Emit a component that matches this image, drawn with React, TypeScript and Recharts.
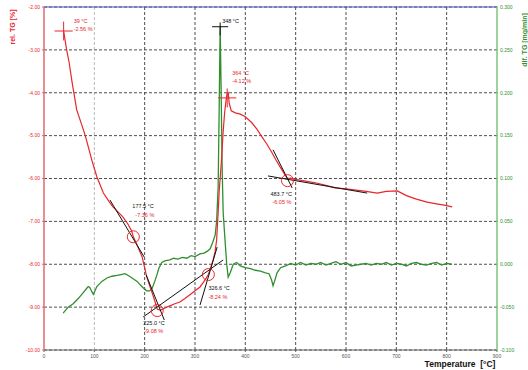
import React from 'react';
import {
  ComposedChart, Line, XAxis, YAxis, CartesianGrid, ReferenceLine, ReferenceDot,
} from 'recharts';

// TG curve (relative mass loss, %)
const tgTemp = [39, 45, 50, 56, 65, 75, 82, 90, 95, 105, 118, 130, 137, 147, 157, 166, 174, 177.5, 186, 195, 204, 210, 215, 220, 225, 232, 240, 250, 260, 270, 280, 290, 300, 310, 318, 326.6, 332, 336, 340, 343, 346, 348, 350, 353, 356, 359, 362, 364, 366, 368, 372, 380, 390, 400, 413, 423, 433, 443, 453, 461, 469, 477, 483.7, 490, 499, 520, 539, 560, 578, 600, 620, 640, 662, 680, 702, 720, 740, 761, 780, 795, 811];
const tgValue = [-2.56, -3.0, -3.3, -3.77, -4.4, -4.75, -5.0, -5.35, -5.57, -5.96, -6.34, -6.55, -6.66, -6.78, -6.9, -7.05, -7.22, -7.36, -7.58, -7.83, -8.29, -8.5, -8.67, -8.85, -9.05, -9.07, -9.02, -8.97, -8.92, -8.88, -8.8, -8.71, -8.62, -8.53, -8.4, -8.24, -8.05, -7.9, -7.7, -7.43, -6.8, -6.3, -6.0, -5.5, -4.9, -4.45, -4.15, -4.02, -4.0, -4.25, -4.42, -4.47, -4.5, -4.56, -4.7, -4.85, -5.03, -5.2, -5.4, -5.57, -5.73, -5.88, -6.0, -5.99, -6.02, -6.06, -6.1, -6.16, -6.22, -6.24, -6.27, -6.3, -6.34, -6.3, -6.29, -6.4, -6.48, -6.55, -6.59, -6.62, -6.66];

// DTG curve (mg/min)
const dtgTemp = [38, 48, 58, 68, 78, 85, 88, 91, 95, 98, 102, 105, 115, 125, 135, 145, 153, 161, 170, 177, 185, 191, 198, 204, 210, 215, 220, 224, 228, 234, 240, 250, 258, 266, 275, 284, 292, 300, 310, 318, 324, 330, 335, 340, 343, 346, 348, 350, 352, 354, 356, 360, 363, 366, 370, 376, 383, 390, 400, 410, 420, 430, 440, 447, 452, 455, 458, 463, 470, 480, 490, 500, 510, 520, 530, 540, 550, 560, 570, 580, 590, 600, 610, 620, 630, 640, 650, 660, 670, 680, 690, 700, 710, 720, 730, 740, 750, 760, 770, 780, 790, 800, 810];
const dtgValue = [-0.057, -0.05, -0.046, -0.04, -0.033, -0.028, -0.026, -0.027, -0.032, -0.035, -0.03, -0.026, -0.02, -0.016, -0.014, -0.013, -0.012, -0.011, -0.014, -0.017, -0.02, -0.024, -0.028, -0.031, -0.031, -0.028, -0.02, -0.013, -0.005, 0.002, 0.004, 0.005, 0.007, 0.006, 0.008, 0.007, 0.01, 0.009, 0.012, 0.013, 0.015, 0.018, 0.025, 0.034, 0.05, 0.09, 0.18, 0.278, 0.2, 0.11, 0.06, 0.025, 0.0, -0.015, -0.01, 0.0, 0.002, -0.002, -0.004, -0.005, -0.007, -0.008, -0.01, -0.011, -0.018, -0.025, -0.02, -0.01, -0.004, -0.002, 0.001, -0.001, 0.002, -0.001, 0.001, 0.0, 0.002, -0.001, 0.001, 0.003, 0.0, 0.002, -0.002, -0.001, 0.0, 0.001, -0.001, 0.001, 0.0, 0.002, -0.001, 0.001, 0.0, -0.002, 0.001, 0.002, 0.0, -0.001, 0.001, 0.002, -0.001, 0.001, 0.0];

const tempTicks = [0, 100, 200, 300, 400, 500, 600, 700, 800, 900];
const tgTicks = [-2, -3, -4, -5, -6, -7, -8, -9, -10];
const dtgTicks = [0.3, 0.25, 0.2, 0.15, 0.1, 0.05, 0, -0.05, -0.1];

// evaluated points (circles) on TG
const markTemp = [177.5, 225.0, 326.6, 483.7];
const markLoss = [-7.36, -9.08, -8.24, -6.05];
const markOffset = [[-1, -30, 2, -21], [-14, 13, -13, 21], [0, 14, 0, 23], [-17, 14, -15, 22]];

// tangent lines on TG: [t1, v1, t2, v2]
const tangents = [
  [131, -6.5, 199, -7.83],
  [203, -8.25, 239, -9.3],
  [197, -9.23, 356, -7.9],
  [310, -8.95, 344, -7.6],
  [445, -5.94, 642, -6.34],
  [455, -5.33, 493, -6.22],
];

// TG start and step end (crosses)
const crossTemp = [39, 364];
const crossLoss = [-2.56, -4.12];
const crossOffset = [[10, -9, 10, -1], [5, -24, 5, -16]];

// DTG peak
const peakTemp = 350;
const peakRate = 0.277;
const peakText = '348 °C';

const pts = (xs: number[], ys: number[]) => xs.map((x, i) => ({ t: x, v: ys[i] }));
const tgData = pts(tgTemp, tgValue);
const dtgData = pts(dtgTemp, dtgValue);

const RED = '#e8262b';
const GREEN = '#2f8f2f';
const FONT = '"Liberation Sans", Arial, sans-serif';

const twoLines = (l1: string, c1: string, l2: string | null, c2: string, o: number[]) => (props: any) => {
  const { cx, cy } = props;
  return (
    <g fontFamily={FONT} fontSize={5.5}>
      <text x={cx + o[0]} y={cy + o[1]} fill={c1} dominantBaseline="middle">{l1}</text>
      {l2 && <text x={cx + o[2]} y={cy + o[3]} fill={c2} dominantBaseline="middle">{l2}</text>}
    </g>
  );
};

const fmtT = (t: number) => `${t.toFixed(1)} °C`;
const fmtV = (v: number) => `${v.toFixed(2)} %`;

export default function App() {
  return (
    <div style={{ position: 'absolute', left: 0, top: 0, width: 528, height: 370, background: '#fff' }}>
      <ComposedChart width={528} height={370} margin={{ top: 7, right: 0, bottom: 0, left: 0 }}>
        <CartesianGrid yAxisId="tg" vertical={false} stroke="#3a3a3a" strokeDasharray="3 2" strokeWidth={0.9} />
        {tempTicks.slice(1, -1).map((t) => (
          <ReferenceLine
            key={`vg${t}`}
            yAxisId="tg"
            x={t}
            stroke={t === 100 ? '#9a9a9a' : '#3a3a3a'}
            strokeWidth={t === 100 ? 0.7 : 0.9}
            strokeDasharray="3 2"
          />
        ))}
        <XAxis
          dataKey="t"
          type="number"
          domain={[0, 900]}
          ticks={tempTicks}
          interval={0}
          height={20}
          tickSize={2}
          tickMargin={2}
          tick={{ fontSize: 5, fill: '#555', fontFamily: FONT }}
          axisLine={{ stroke: '#666', strokeWidth: 1.2 }}
          tickLine={{ stroke: '#666' }}
          allowDuplicatedCategory={false}
        />
        <YAxis
          yAxisId="tg"
          orientation="left"
          type="number"
          domain={[-10, -2]}
          ticks={tgTicks}
          interval={0}
          width={44}
          tickSize={2}
          tickMargin={2}
          tickFormatter={(v: number) => v.toFixed(2)}
          tick={{ fontSize: 5, fill: RED, fontFamily: FONT }}
          axisLine={{ stroke: '#e06a6a', strokeWidth: 1.5 }}
          tickLine={{ stroke: '#e06a6a' }}
        />
        <YAxis
          yAxisId="dtg"
          orientation="right"
          type="number"
          domain={[-0.1, 0.3]}
          ticks={dtgTicks}
          interval={0}
          width={31}
          tickSize={1}
          tickMargin={2}
          tickFormatter={(v: number) => v.toFixed(3)}
          tick={{ fontSize: 5, fill: GREEN, fontFamily: FONT, textAnchor: 'start' }}
          axisLine={{ stroke: '#7cc47c', strokeWidth: 1.5 }}
          tickLine={{ stroke: '#7cc47c' }}
        />
        <ReferenceLine yAxisId="tg" y={-2} stroke="#5050c8" strokeWidth={1.2} />

        <Line yAxisId="dtg" data={dtgData} dataKey="v" type="linear" stroke={GREEN} strokeWidth={1.3} dot={false} isAnimationActive={false} />
        <Line yAxisId="tg" data={tgData} dataKey="v" type="linear" stroke={RED} strokeWidth={1.2} dot={false} isAnimationActive={false} />

        {tangents.map((s, i) => (
          <ReferenceLine key={`tan${i}`} yAxisId="tg" segment={[{ x: s[0], y: s[1] }, { x: s[2], y: s[3] }]} stroke="#111" strokeWidth={1} />
        ))}

        {crossTemp.map((t, i) => (
          <React.Fragment key={`cr${i}`}>
            <ReferenceLine yAxisId="tg" segment={[{ x: t - 18, y: crossLoss[i] }, { x: t + 18, y: crossLoss[i] }]} stroke={RED} strokeWidth={1} />
            <ReferenceLine yAxisId="tg" segment={[{ x: t, y: crossLoss[i] + 0.22 }, { x: t, y: crossLoss[i] - 0.22 }]} stroke={RED} strokeWidth={1} />
            <ReferenceDot
              yAxisId="tg"
              x={t}
              y={crossLoss[i]}
              r={0}
              shape={twoLines(`${t} °C`, RED, fmtV(crossLoss[i]), RED, crossOffset[i])}
            />
          </React.Fragment>
        ))}

        <ReferenceLine yAxisId="dtg" segment={[{ x: peakTemp - 16, y: peakRate }, { x: peakTemp + 16, y: peakRate }]} stroke="#111" strokeWidth={1} />
        <ReferenceLine yAxisId="dtg" segment={[{ x: peakTemp, y: peakRate + 0.005 }, { x: peakTemp, y: peakRate - 0.01 }]} stroke="#111" strokeWidth={1} />
        <ReferenceDot yAxisId="dtg" x={peakTemp} y={peakRate} r={0} shape={twoLines(peakText, '#111', null, '#111', [2, -5, 0, 0])} />

        {markTemp.map((t, i) => (
          <ReferenceDot key={`mk${i}`} yAxisId="tg" x={t} y={markLoss[i]} r={6} fill="none" stroke={RED} strokeWidth={1} />
        ))}
        {markTemp.map((t, i) => (
          <ReferenceDot
            key={`ml${i}`}
            yAxisId="tg"
            x={t}
            y={markLoss[i]}
            r={0}
            shape={twoLines(fmtT(t), '#111', fmtV(markLoss[i]), RED, markOffset[i])}
          />
        ))}
      </ComposedChart>

      <div style={{ position: 'absolute', left: 12, top: 27, transform: 'translate(-50%, -50%) rotate(-90deg)', color: RED, fontFamily: FONT, fontSize: 7, fontWeight: 'bold', whiteSpace: 'nowrap' }}>
        rel. TG [%]
      </div>
      <div style={{ position: 'absolute', left: 524, top: 40, transform: 'translate(-50%, -50%) rotate(-90deg)', color: GREEN, fontFamily: FONT, fontSize: 7, fontWeight: 'bold', whiteSpace: 'nowrap' }}>
        dif. TG [mg/min]
      </div>
      <div style={{ position: 'absolute', left: 460, top: 364, transform: 'translate(-50%, -50%)', color: '#111', fontFamily: FONT, fontSize: 8.5, fontWeight: 'bold', whiteSpace: 'nowrap' }}>
        Temperature&nbsp;&nbsp;[°C]
      </div>
    </div>
  );
}
